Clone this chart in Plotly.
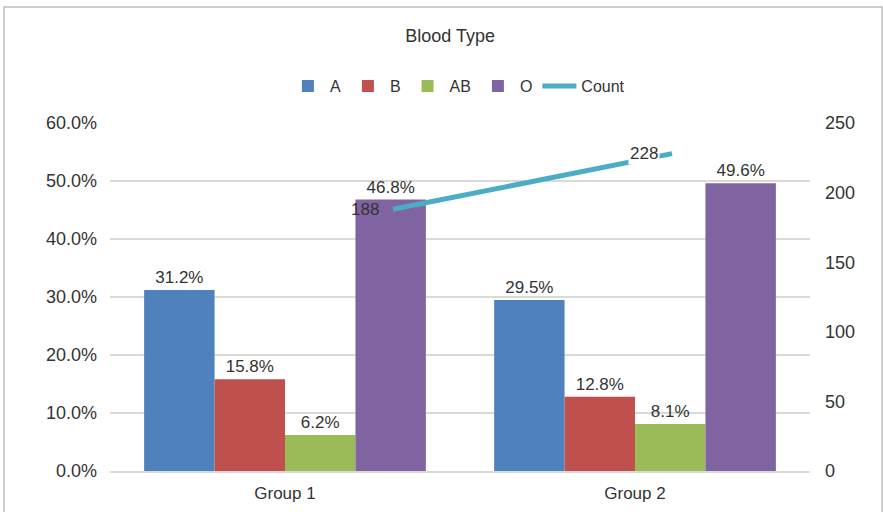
import plotly.graph_objects as go

groups = ["Group 1", "Group 2"]
blood_types = ["A", "B", "AB", "O"]
pct_A = [0.312, 0.295]
pct_B = [0.158, 0.128]
pct_AB = [0.062, 0.081]
pct_O = [0.468, 0.496]
counts = [188, 228]

colors = {"A": "#4F81BD", "B": "#C0504D", "AB": "#9BBB59", "O": "#8064A2"}
series = {"A": pct_A, "B": pct_B, "AB": pct_AB, "O": pct_O}

FONT = "Liberation Sans, Arial, sans-serif"
TXT = "#333333"

fig = go.Figure()
for bt in blood_types:
    fig.add_trace(go.Bar(
        name=bt, x=groups, y=series[bt], marker_color=colors[bt],
        marker_line_width=0,
        texttemplate="%{y:.1%}", textposition="outside",
        textfont=dict(size=17, color=TXT, family=FONT),
        cliponaxis=False,
    ))

fig.add_trace(go.Scatter(
    name="Count", x=groups, y=counts, mode="lines",
    line=dict(color="#4BACC6", width=5),
    xaxis="x2", yaxis="y2",
))

label_bg = ["rgba(0,0,0,0)", "white"]
for g, c, bg in zip(groups, counts, label_bg):
    fig.add_annotation(x=g, y=c, xref="x2", yref="y2", text=str(c),
                       showarrow=False, xanchor="right", xshift=-12,
                       bgcolor=bg, font=dict(size=17, color=TXT, family=FONT))

fig.update_layout(
    width=883, height=512,
    margin=dict(l=110, r=73, t=123, b=41),
    paper_bgcolor="white", plot_bgcolor="white",
    barmode="group", bargap=0.195, bargroupgap=0,
    font=dict(family=FONT, color=TXT, size=17),
    title=dict(text="Blood Type", x=0.486, xref="paper", y=1 - 36 / 512,
               yref="container", xanchor="center", yanchor="middle",
               font=dict(size=18, color=TXT, family=FONT)),
    legend=dict(orientation="h", x=0.497, xanchor="center", y=1.106,
                yanchor="middle", font=dict(size=16, color=TXT),
                itemwidth=34, traceorder="normal", bgcolor="rgba(0,0,0,0)"),
    xaxis=dict(type="category", showgrid=False, showline=True,
               linecolor="#d9d9d9", linewidth=1.5, ticks="", automargin=False,
               tickfont=dict(size=17, color=TXT), ticklabelstandoff=6),
    xaxis2=dict(type="category", overlaying="x", visible=False,
                range=[-1.0143, 1.4946]),
    yaxis=dict(range=[0, 0.6], dtick=0.1, tickformat=".1%", automargin=False,
               showgrid=True, gridcolor="#d9d9d9", gridwidth=1.5,
               zeroline=False, showline=False, ticks="",
               tickfont=dict(size=18, color=TXT), ticklabelstandoff=12),
    yaxis2=dict(range=[0, 250], dtick=50, overlaying="y", side="right",
                automargin=False,
                showgrid=False, zeroline=False, showline=False, ticks="",
                tickfont=dict(size=18, color=TXT), ticklabelstandoff=14),
    shapes=[dict(type="rect", xref="paper", yref="paper",
                 x0=(4 - 110) / 700, x1=(882 - 110) / 700,
                 y0=-0.3, y1=(471 - 7) / 348,
                 line=dict(color="#bfbfbf", width=1.5), layer="below")],
)

fig.write_html("out.html", config={"displayModeBar": False},
               post_script="document.body.style.margin='0';")
